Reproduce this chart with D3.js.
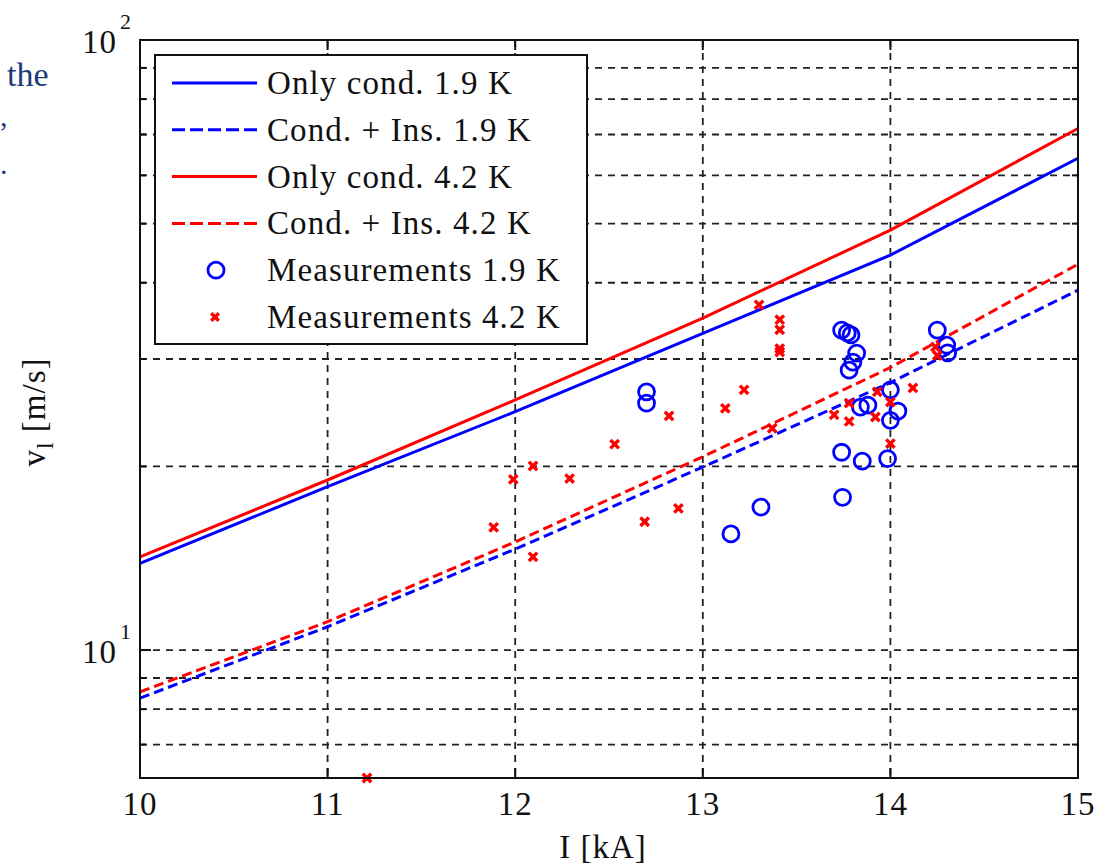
<!DOCTYPE html>
<html>
<head>
<meta charset="utf-8">
<script src="https://cdn.jsdelivr.net/npm/d3@7/dist/d3.min.js"></script>
<style>
  body { margin: 0; background: #fff; }
  svg text { font-family: "Liberation Serif", "Times New Roman", serif; fill: #111; }
</style>
</head>
<body>
<div id="chart"></div>
<script>
// current in kA where the model curves were read
var modelI = [10, 11, 12, 13, 14, 15];
// propagation velocity v_l [m/s] for each model
var onlyCond19 = [13.87, 18.53, 24.59, 33.05, 44.41, 64.0];
var condIns19 = [8.34, 10.92, 14.64, 19.95, 27.45, 38.9];
var onlyCond42 = [14.22, 19.0, 25.7, 35.0, 48.8, 71.6];
var condIns42 = [8.54, 11.13, 15.04, 20.74, 29.05, 42.9];

// measurements at 1.9 K
var meas19I = [12.70, 12.70, 13.31, 13.15, 13.74, 13.77, 13.79, 13.82, 13.80, 13.78,
               13.84, 13.88, 14.00, 14.00, 14.04, 13.74, 13.85, 13.985, 13.745, 14.25, 14.30, 14.305];
var meas19V = [26.5, 25.4, 17.15, 15.5, 33.46, 33.1, 32.85, 30.68, 29.65, 28.77,
               25.02, 25.2, 26.7, 23.8, 24.65, 21.1, 20.4, 20.6, 17.8, 33.46, 31.6, 30.7];

// measurements at 4.2 K
var meas42I = [11.21, 11.885, 11.99, 12.095, 12.095, 12.29, 12.53, 12.69, 12.82, 12.87,
               13.12, 13.22, 13.30, 13.41, 13.41, 13.41, 13.41, 13.37, 13.70, 13.78,
               13.78, 13.93, 13.92, 14.00, 14.00, 14.12, 14.24, 14.25];
var meas42V = [6.17, 15.89, 19.05, 14.22, 20.03, 19.1, 21.75, 16.23, 24.2, 17.07,
               24.9, 26.7, 36.8, 34.8, 33.5, 31.2, 30.8, 23.1, 24.3, 25.4,
               23.7, 26.5, 24.1, 25.5, 21.8, 26.9, 31.4, 30.4];

var xTicks = [10, 11, 12, 13, 14, 15];
var yMinor = [7, 8, 9, 20, 30, 40, 50, 60, 70, 80, 90];
var yMajor = [10, 100];

var legendLabels = ["Only cond. 1.9 K", "Cond. + Ins. 1.9 K", "Only cond. 4.2 K",
                    "Cond. + Ins. 4.2 K", "Measurements 1.9 K", "Measurements 4.2 K"];

function draw() {
  var W = 1097, H = 866;
  var pLeft = 140, pRight = 1078, pTop = 40, pBottom = 778;
  var blue = "#0000ff", red = "#ff0000";

  var svg = d3.select("#chart").append("svg")
    .attr("width", W).attr("height", H);

  var x = d3.scaleLinear().domain([10, 15]).range([pLeft, pRight]);
  var y = d3.scaleLog().domain([6.17, 100]).range([pBottom, pTop]);

  // slide text fragment at top left
  svg.append("text").attr("x", 7).attr("y", 86)
    .style("font-size", "34px").style("fill", "#1b3b7b").text("the");
  svg.append("text").attr("x", 0).attr("y", 126)
    .style("font-size", "30px").style("fill", "#1b3b7b").text(",");
  svg.append("text").attr("x", 0).attr("y", 174)
    .style("font-size", "30px").style("fill", "#1b3b7b").text(".");

  // grid lines
  var grid = svg.append("g")
    .attr("stroke", "#222").attr("stroke-width", 1.8).attr("stroke-dasharray", "7,6");
  grid.selectAll(".vg").data([11, 12, 13, 14]).enter().append("line")
    .attr("x1", function(d){ return x(d); }).attr("x2", function(d){ return x(d); })
    .attr("y1", pTop).attr("y2", pBottom);
  grid.selectAll(".hg").data(yMinor.concat([10])).enter().append("line")
    .attr("x1", pLeft).attr("x2", pRight)
    .attr("y1", function(d){ return y(d); }).attr("y2", function(d){ return y(d); });

  // model curves
  var line = d3.line()
    .x(function(d){ return x(d[0]); })
    .y(function(d){ return y(d[1]); });

  var curves = [
    { v: onlyCond19, c: blue, dash: null },
    { v: condIns19, c: blue, dash: "10,5" },
    { v: onlyCond42, c: red, dash: null },
    { v: condIns42, c: red, dash: "10,5" }
  ];
  curves.forEach(function(k) {
    svg.append("path")
      .datum(d3.zip(modelI, k.v))
      .attr("d", line)
      .attr("fill", "none")
      .attr("stroke", k.c)
      .attr("stroke-width", 3)
      .attr("stroke-dasharray", k.dash);
  });

  // measurement markers
  function drawCross(g, cx, cy, s) {
    g.append("path")
      .attr("d", "M" + (cx - s) + "," + (cy - s) + "L" + (cx + s) + "," + (cy + s) +
                 "M" + (cx - s) + "," + (cy + s) + "L" + (cx + s) + "," + (cy - s))
      .attr("stroke", red).attr("stroke-width", 3.4).attr("fill", "none");
  }

  svg.append("g").selectAll("circle")
    .data(d3.zip(meas19I, meas19V)).enter().append("circle")
    .attr("cx", function(d){ return x(d[0]); })
    .attr("cy", function(d){ return y(d[1]); })
    .attr("r", 8)
    .attr("fill", "none").attr("stroke", blue).attr("stroke-width", 2.8);

  var crossG = svg.append("g");
  d3.zip(meas42I, meas42V).forEach(function(d) {
    drawCross(crossG, x(d[0]), y(d[1]), 4.2);
  });

  // legend
  var lg = svg.append("g");
  lg.append("rect").attr("x", 155).attr("y", 55).attr("width", 432).attr("height", 289)
    .attr("fill", "#fff").attr("stroke", "#111").attr("stroke-width", 2);
  legendLabels.forEach(function(lab, i) {
    var ly = 83 + i * 46.8;
    if (i < 4) {
      lg.append("line").attr("x1", 172).attr("x2", 257).attr("y1", ly).attr("y2", ly)
        .attr("stroke", curves[i].c).attr("stroke-width", 3)
        .attr("stroke-dasharray", curves[i].dash ? "13,5" : null);
    } else if (i === 4) {
      lg.append("circle").attr("cx", 216).attr("cy", ly).attr("r", 8)
        .attr("fill", "none").attr("stroke", blue).attr("stroke-width", 2.8);
    } else {
      drawCross(lg, 215, ly, 3.8);
    }
    lg.append("text").attr("x", 267).attr("y", ly + 11)
      .style("font-size", "33px").style("letter-spacing", "1.1px").text(lab);
  });

  // axes box with inward ticks
  var ax = svg.append("g").attr("stroke", "#111").attr("stroke-width", 2);
  ax.append("rect").attr("x", pLeft).attr("y", pTop)
    .attr("width", pRight - pLeft).attr("height", pBottom - pTop).attr("fill", "none");
  xTicks.forEach(function(t) {
    ax.append("line").attr("x1", x(t)).attr("x2", x(t)).attr("y1", pBottom).attr("y2", pBottom - 10);
    ax.append("line").attr("x1", x(t)).attr("x2", x(t)).attr("y1", pTop).attr("y2", pTop + 10);
  });
  yMinor.forEach(function(t) {
    ax.append("line").attr("x1", pLeft).attr("x2", pLeft + 6).attr("y1", y(t)).attr("y2", y(t));
    ax.append("line").attr("x1", pRight).attr("x2", pRight - 6).attr("y1", y(t)).attr("y2", y(t));
  });
  yMajor.forEach(function(t) {
    ax.append("line").attr("x1", pLeft).attr("x2", pLeft + 11).attr("y1", y(t)).attr("y2", y(t));
    ax.append("line").attr("x1", pRight).attr("x2", pRight - 11).attr("y1", y(t)).attr("y2", y(t));
  });

  // tick labels
  svg.append("g").selectAll("text").data(xTicks).enter().append("text")
    .attr("x", function(d){ return x(d); }).attr("y", 815)
    .attr("text-anchor", "middle")
    .style("font-size", "33px").style("letter-spacing", "1px")
    .text(function(d){ return d; });

  yMajor.forEach(function(t) {
    var ty = y(t) + 13;
    svg.append("text").attr("x", 117).attr("y", ty).attr("text-anchor", "end")
      .style("font-size", "33px").style("letter-spacing", "1px").text("10");
    svg.append("text").attr("x", 120).attr("y", ty - 24)
      .style("font-size", "22px").text(Math.round(Math.log10(t)));
  });

  // axis titles
  svg.append("text").attr("x", 603).attr("y", 858).attr("text-anchor", "middle")
    .style("font-size", "33px").style("letter-spacing", "1px").text("I [kA]");

  var yl = svg.append("text")
    .attr("transform", "translate(45,412) rotate(-90)")
    .attr("text-anchor", "middle")
    .style("font-size", "33px").style("letter-spacing", "1px");
  yl.append("tspan").text("v");
  yl.append("tspan").attr("dy", 8).style("font-size", "24px").text("l");
  yl.append("tspan").attr("dy", -8).text(" [m/s]");
}

draw();
</script>
</body>
</html>
